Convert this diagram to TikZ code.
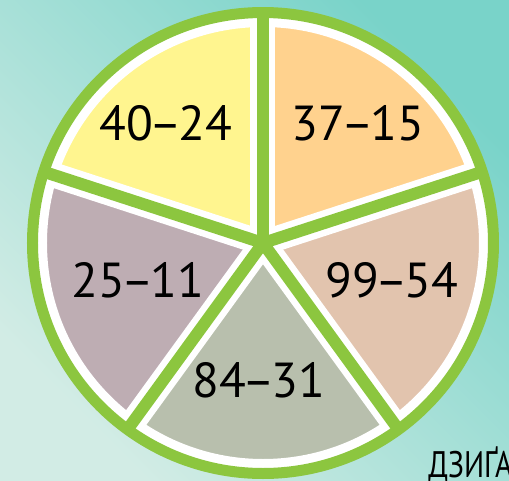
\documentclass[tikz,border=0pt]{standalone}
\usepackage{fontspec}
\setmainfont{PT Sans}
\newfontfamily\dzcond[FakeStretch=0.8]{PT Sans}
\usepackage{xcolor}
\usetikzlibrary{positioning}
\definecolor{dzGreen}{HTML}{8CC63F}
\definecolor{dzYellow}{HTML}{FFF58F}
\definecolor{dzOrange}{HTML}{FFD28E}
\definecolor{dzPeach}{HTML}{E2C4AE}
\definecolor{dzSage}{HTML}{B8BFAD}
\definecolor{dzMauve}{HTML}{BEADB3}
\definecolor{dzBgTR}{HTML}{79D3C9}
\definecolor{dzBgBL}{HTML}{D2ECE5}
\newcommand{\dzdash}{\kern-0.07em–\kern-0.07em}
\tikzset{
  dz/label/.style   = {font=\fontsize{28}{30}\selectfont, text=black, inner sep=0pt},
  dz/caption/.style = {font=\dzcond\fontsize{21}{24}\selectfont, text=black, inner sep=0pt},
  dz/gap/.style     = {draw=white, line width=0.50cm},
  dz/spoke/.style   = {draw=dzGreen, line width=0.24cm},
  dz/ring/.style    = {draw=dzGreen, line width=0.22cm},
}

\begin{document}
\begin{tikzpicture}
      \clip (-5.26,-4.74) rectangle (4.92,4.86);
      \shade[top color=dzBgTR, bottom color=dzBgBL, shading angle=-45]
            (-5.26,-4.74) rectangle (4.92,4.86);
      \coordinate (c) at (0,0);
      % sectors
      \fill[dzOrange] (c) -- (18:4.5) arc[start angle=18, end angle=90, radius=4.5] -- cycle;
      \fill[dzYellow] (c) -- (90:4.5) arc[start angle=90, end angle=162, radius=4.5] -- cycle;
      \fill[dzMauve]  (c) -- (162:4.5) arc[start angle=162, end angle=234, radius=4.5] -- cycle;
      \fill[dzSage]   (c) -- (234:4.5) arc[start angle=234, end angle=306, radius=4.5] -- cycle;
      \fill[dzPeach]  (c) -- (306:4.5) arc[start angle=306, end angle=378, radius=4.5] -- cycle;
      % spoke ends
      \coordinate (s1) at (90:4.6);
      \coordinate (s2) at (18:4.6);
      \coordinate (s3) at (-54:4.6);
      \coordinate (s4) at (-126:4.6);
      \coordinate (s5) at (162:4.6);
      % white gaps
      \draw[draw=white, line width=0.24cm] (c) circle[radius=4.44];
      \draw[dz/gap] (c) -- (s1);
      \draw[dz/gap] (c) -- (s2);
      \draw[dz/gap] (c) -- (s3);
      \draw[dz/gap] (c) -- (s4);
      \draw[dz/gap] (c) -- (s5);
      % green spokes and rim
      \draw[dz/spoke] (c) -- (s1);
      \draw[dz/spoke] (c) -- (s2);
      \draw[dz/spoke] (c) -- (s3);
      \draw[dz/spoke] (c) -- (s4);
      \draw[dz/spoke] (c) -- (s5);
      \draw[dz/ring] (c) circle[radius=4.61];
      % labels
      \node[dz/label] (yl) at (-1.94, 2.40) {40\dzdash24};
      \node[dz/label] (or) at (1.90, 2.40)  {37\dzdash15};
      \node[dz/label] (ma) at (-2.50,-0.74) {25\dzdash11};
      \node[dz/label] (pe) at (2.58,-0.74)  {99\dzdash54};
      \node[dz/label] (sa) at (-0.08,-2.74) {84\dzdash31};
      \node[dz/caption, anchor=base west] (word) at (3.30,-4.68) {ДЗИҐА};
    \end{tikzpicture}
\end{document}
